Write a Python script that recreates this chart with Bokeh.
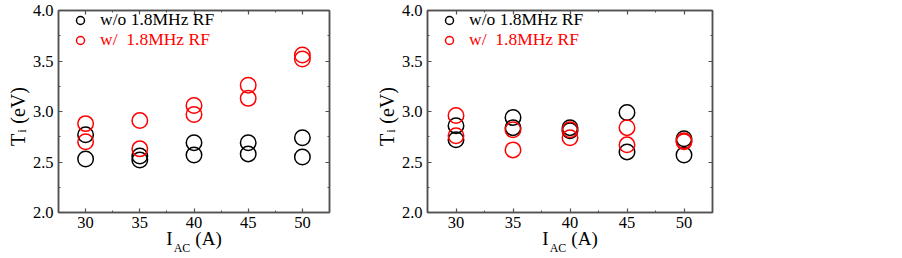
from bokeh.plotting import figure
from bokeh.models import (Range1d, LinearAxis, SingleIntervalTicker, FixedTicker, Legend,
                          LegendItem, ColumnDataSource, PrintfTickFormatter)
from bokeh.layouts import row
from bokeh.embed import file_html
from bokeh.resources import INLINE

# ---------------- data ----------------
currents = [30, 35, 40, 45, 50]

# left panel
a_wo_1 = [2.77, 2.56, 2.69, 2.69, 2.74]
a_wo_2 = [2.53, 2.52, 2.57, 2.58, 2.55]
a_w_1 = [2.88, 2.91, 3.06, 3.26, 3.56]
a_w_2 = [2.70, 2.63, 2.97, 3.13, 3.52]

# right panel
b_wo_1 = [2.86, 2.94, 2.84, 2.99, 2.73]
b_wo_2 = [2.72, 2.84, 2.81, 2.60, 2.57]
b_w_1 = [2.96, 2.82, 2.82, 2.84, 2.71]
b_w_2 = [2.76, 2.62, 2.74, 2.67, 2.70]

legend_labels = ["w/o 1.8MHz RF", "w/  1.8MHz RF"]
series_colors = ["#000000", "#ff0000"]
# axis titles: main text with a gap, subscript carried by a label-only axis
x_label_main = "I\u2003\u2009(A)"
x_label_sub = "AC\u2003\u2003"
y_label_main = "T\u2002(eV)\u2002"
y_label_sub = "i\u2003\u2003\u2003"

FONT = "Liberation Serif"
FRAME_COL = "#505050"
H = 258


def style_axis(ax, show_labels):
    ax.axis_line_color = FRAME_COL
    ax.axis_line_width = 1.5
    ax.major_tick_line_color = FRAME_COL
    ax.minor_tick_line_color = FRAME_COL
    ax.major_tick_line_width = 1.2
    ax.minor_tick_line_width = 1.0
    ax.major_tick_in = 4
    ax.major_tick_out = 0
    ax.minor_tick_in = 2
    ax.minor_tick_out = 0
    if show_labels:
        ax.major_label_text_font = FONT
        ax.major_label_text_font_size = "16.5px"
        ax.major_label_text_color = "#000000"
    else:
        ax.major_label_text_font_size = "1px"
        ax.major_label_text_color = None
        ax.major_label_standoff = 0


def label_only_axis(text, size, standoff):
    ax = LinearAxis(ticker=FixedTicker(ticks=[]))
    ax.axis_line_color = None
    ax.major_tick_line_color = None
    ax.minor_tick_line_color = None
    ax.major_label_text_color = None
    ax.major_label_text_font_size = "1px"
    ax.major_label_standoff = 0
    ax.axis_label = text
    ax.axis_label_text_font = FONT
    ax.axis_label_text_font_size = size
    ax.axis_label_text_font_style = "normal"
    ax.axis_label_text_color = "#000000"
    ax.axis_label_standoff = standoff
    return ax


def make_panel(border_left, frame_w, wo1, wo2, w1, w2):
    width = border_left + frame_w + 20
    p = figure(width=width, height=H, output_backend="svg", toolbar_location=None,
               x_range=Range1d(27.5, 52.5), y_range=Range1d(2.0, 4.0),
               min_border_left=border_left, min_border_right=20,
               min_border_top=10, min_border_bottom=H - 212,
               x_axis_type=None, y_axis_type=None)
    p.outline_line_color = FRAME_COL
    p.outline_line_width = 1.5
    p.background_fill_color = "white"
    p.border_fill_color = "white"

    # bottom axis: tick labels + main part of x title
    xb = LinearAxis(ticker=SingleIntervalTicker(interval=5, num_minor_ticks=2))
    style_axis(xb, True)
    xb.major_label_standoff = 4
    xb.axis_label = x_label_main
    xb.axis_label_text_font = FONT
    xb.axis_label_text_font_size = "19px"
    xb.axis_label_text_font_style = "normal"
    xb.axis_label_text_color = "#000000"
    xb.axis_label_standoff = -3
    p.add_layout(xb, "below")
    p.add_layout(label_only_axis(x_label_sub, "12px", -11), "below")

    xa = LinearAxis(ticker=SingleIntervalTicker(interval=5, num_minor_ticks=2))
    style_axis(xa, False)
    p.add_layout(xa, "above")

    # left axis: tick labels + main part of y title
    yb = LinearAxis(ticker=SingleIntervalTicker(interval=0.5, num_minor_ticks=2),
                    formatter=PrintfTickFormatter(format="%.1f"))
    style_axis(yb, True)
    yb.major_label_standoff = 5
    yb.axis_label = y_label_main
    yb.axis_label_text_font = FONT
    yb.axis_label_text_font_size = "20px"
    yb.axis_label_text_font_style = "normal"
    yb.axis_label_text_color = "#000000"
    yb.axis_label_standoff = 1
    p.add_layout(yb, "left")
    p.add_layout(label_only_axis(y_label_sub, "13px", -25), "left")

    yr = LinearAxis(ticker=SingleIntervalTicker(interval=0.5, num_minor_ticks=2))
    style_axis(yr, False)
    p.add_layout(yr, "right")

    src = ColumnDataSource(dict(x=currents, wo1=wo1, wo2=wo2, w1=w1, w2=w2))
    rs = []
    for cols, color in ((("wo1", "wo2"), series_colors[0]), (("w1", "w2"), series_colors[1])):
        group = []
        for c in cols:
            r = p.scatter("x", c, source=src, marker="circle", size=15.5,
                          fill_color=None, line_color=color, line_width=1.5)
            group.append(r)
        rs.append(group)

    for i, (loc_y, color) in enumerate(((182, series_colors[0]), (162, series_colors[1]))):
        leg = Legend(items=[LegendItem(label=legend_labels[i], renderers=[rs[i][0]])],
                     location=(12, loc_y), padding=0, margin=0, spacing=0,
                     glyph_width=20, glyph_height=20, label_height=20,
                     label_standoff=10, border_line_color=None,
                     background_fill_alpha=0,
                     label_text_font=FONT, label_text_font_size="17.5px",
                     label_text_color=color)
        p.add_layout(leg, "center")
    return p


p1 = make_panel(58, 271, a_wo_1, a_wo_2, a_w_1, a_w_2)
p2 = make_panel(427 - (58 + 271 + 20), 285, b_wo_1, b_wo_2, b_w_1, b_w_2)

layout = row(p1, p2, spacing=0)
open("out.html", "w").write(file_html(layout, INLINE))
